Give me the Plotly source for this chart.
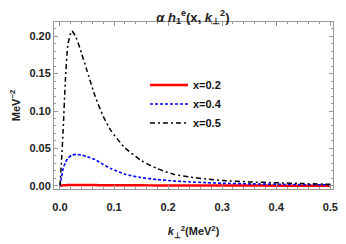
import plotly.graph_objects as go

k2 = [0, 0.003, 0.006, 0.01, 0.015, 0.022, 0.03, 0.04, 0.05, 0.065, 0.08, 0.095,
      0.12, 0.15, 0.18, 0.21, 0.24, 0.27, 0.30, 0.35, 0.40, 0.45, 0.50]
h_x02 = [0, 0.0004, 0.0006, 0.0008, 0.0009, 0.001, 0.001, 0.001, 0.001, 0.0009, 0.0008, 0.0008,
         0.0007, 0.0006, 0.0005, 0.0005, 0.0004, 0.0004, 0.0003, 0.0003, 0.0002, 0.0002, 0.0002]
h_x04 = [0, 0.012, 0.023, 0.031, 0.037, 0.041, 0.042, 0.041, 0.039, 0.035, 0.0285, 0.0228,
         0.0155, 0.011, 0.0083, 0.0065, 0.0052, 0.0042, 0.0034, 0.0026, 0.002, 0.0015, 0.0012]
h_x05 = [0, 0.035, 0.075, 0.14, 0.19, 0.207, 0.198, 0.177, 0.154, 0.12, 0.093, 0.073,
         0.051, 0.034, 0.023, 0.0155, 0.0118, 0.009, 0.007, 0.0052, 0.004, 0.003, 0.002]

names = ["x=0.2", "x=0.4", "x=0.5"]
series = [h_x02, h_x04, h_x05]
colors = ["#ff0000", "#0000ff", "#000000"]
dashes = ["solid", "3px,2px", "5px,3px,2px,3px"]
widths = [2.5, 1.6, 1.5]

FONT = "Liberation Sans"
fig = go.Figure()
for n, s, c, d, w in zip(names, series, colors, dashes, widths):
    fig.add_trace(go.Scatter(x=k2, y=s, mode="lines", name=n,
                             line=dict(color=c, dash=d, width=w, shape="spline", smoothing=0.6)))

axis_common = dict(showline=True, linecolor="#999999", linewidth=1, mirror="ticks",
                   ticks="inside", ticklen=4, tickcolor="#999999", showgrid=False, zeroline=False,
                   tickfont=dict(family=FONT, size=11, color="#222222", weight="bold"))

fig.update_xaxes(range=[-0.011, 0.505], dtick=0.1, tickformat=".1f", ticklabelstandoff=8,
                 minor=dict(dtick=0.02, ticks="inside", ticklen=2, tickcolor="#999999"),
                 title=dict(text="<b><i>k</i><sub>⊥</sub><sup>2</sup>(MeV<sup>2</sup>)</b>",
                            font=dict(family=FONT, size=11, color="#222222", weight="bold"), standoff=15),
                 **axis_common)
fig.update_yaxes(range=[-0.0043, 0.219], dtick=0.05, tickformat=".2f",
                 minor=dict(dtick=0.01, ticks="inside", ticklen=2, tickcolor="#999999"),
                 title=dict(text="<b>MeV<sup>−2</sup></b>",
                            font=dict(family=FONT, size=11, color="#222222", weight="bold"), standoff=6),
                 **axis_common)

# The page body keeps its default 8px margin, so the figure is sized to fill the rest of the window.
fig.update_layout(
    width=338, height=236,
    margin=dict(l=46, r=8, t=14, b=50),
    paper_bgcolor="white", plot_bgcolor="white",
    title=dict(text="<b><i>α h</i><sub>1</sub><sup>e</sup>(x, <i>k</i><sub>⊥</sub><sup>2</sup>)</b>",
               x=0.547, xanchor="center", y=0.962, yanchor="middle",
               font=dict(family=FONT, size=13, color="#222222", weight="bold")),
    legend=dict(x=0.326, y=0.71, xanchor="left", yanchor="top", bgcolor="rgba(0,0,0,0)",
                font=dict(family=FONT, size=11, color="#111111", weight="bold"),
                tracegroupgap=0, itemwidth=38),
    showlegend=True,
)

fig.write_html("out.html", config={"displayModeBar": False})
